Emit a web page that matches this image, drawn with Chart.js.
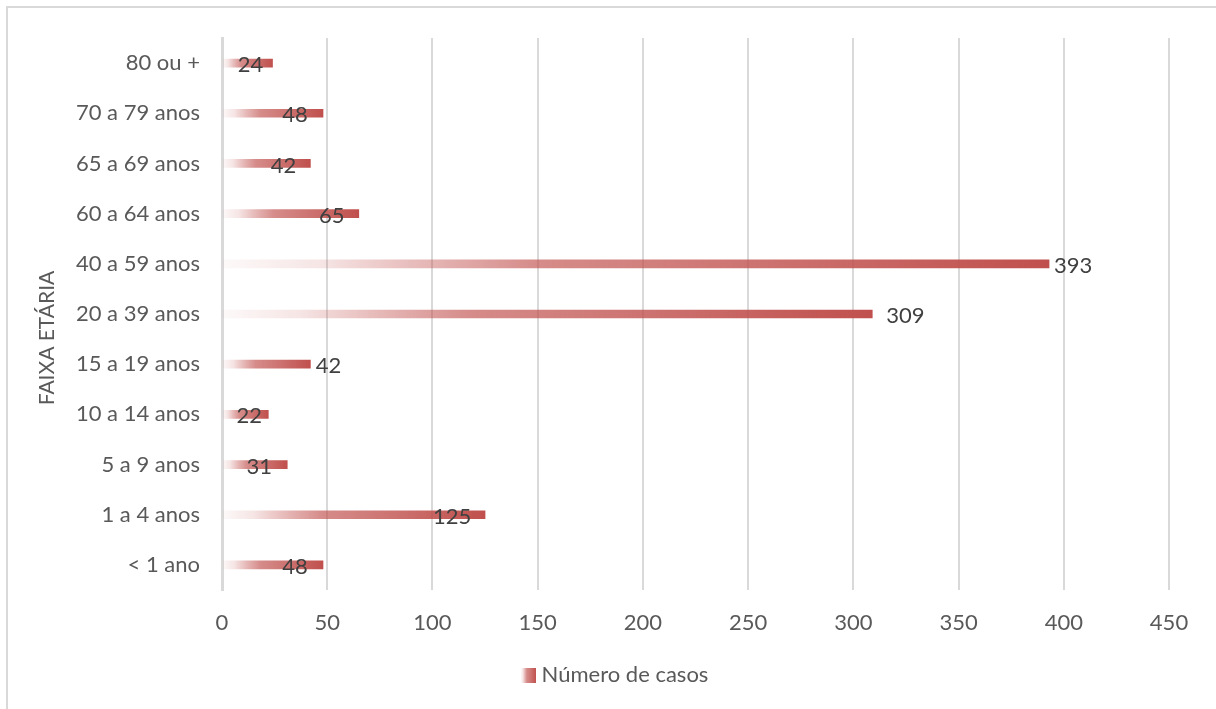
<!DOCTYPE html>
<html>
<head>
<meta charset="utf-8">
<script src="https://cdn.jsdelivr.net/npm/chart.js@4.4.1/dist/chart.umd.min.js"></script>
<style>
    html, body { margin: 0; padding: 0; background: #fff; overflow: hidden; }
    #frame { position: absolute; left: 6px; top: 6px; width: 1216px; height: 709px; border: 2px solid #d9d9d9; box-sizing: border-box; }
    #wrap { position: absolute; left: 0; top: 0; width: 1216px; height: 709px; }
</style>
</head>
<body>
<div id="frame"></div>
<div id="wrap"><canvas id="faixa-chart"></canvas></div>
<script>
// casos por faixa etária
const faixas = ['< 1 ano', '1 a 4 anos', '5 a 9 anos', '10 a 14 anos', '15 a 19 anos', '20 a 39 anos',
    '40 a 59 anos', '60 a 64 anos', '65 a 69 anos', '70 a 79 anos', '80 ou +']
const casos = [48, 125, 31, 22, 42, 309, 393, 65, 42, 48, 24]
const xTicks = [0, 50, 100, 150, 200, 250, 300, 350, 400, 450]

const red = [192, 80, 77]
const fontFamily = 'Lato, "Open Sans", sans-serif'

function fillGradient(ctx, x0, x1) {
    const g = ctx.createLinearGradient(x0, 0, x1, 0)
    g.addColorStop(0, `rgba(${red}, 0.03)`)
    g.addColorStop(0.12, `rgba(${red}, 0.15)`)
    g.addColorStop(0.25, `rgba(${red}, 0.42)`)
    g.addColorStop(0.38, `rgba(${red}, 0.66)`)
    g.addColorStop(0.65, `rgba(${red}, 0.8)`)
    g.addColorStop(1, `rgba(${red}, 1)`)
    return g
}

// little gradient square for the legend
const legendBox = document.createElement('canvas')
legendBox.width = 15
legendBox.height = 15
const lctx = legendBox.getContext('2d')
lctx.fillStyle = fillGradient(lctx, 0, 15)
lctx.fillRect(0, 0, 15, 15)

// value labels, shifted from the bar end (px)
const valueLabels = {
    id: 'valueLabels',
    afterDatasetsDraw(chart, args, opts) {
        const ctx = chart.ctx
        const meta = chart.getDatasetMeta(0)
        ctx.save()
        ctx.font = `22px ${fontFamily}`
        ctx.fillStyle = '#404040'
        ctx.textAlign = 'center'
        ctx.textBaseline = 'middle'
        meta.data.forEach((bar, i) => {
            ctx.fillText(String(casos[i]), bar.x + opts.shift[i], bar.y + 2)
        })
        ctx.restore()
    }
}

// vertical axis title, drawn by hand so it can sit a little lower
const axisTitle = {
    id: 'axisTitle',
    afterDraw(chart, args, opts) {
        const ctx = chart.ctx
        const area = chart.chartArea
        ctx.save()
        ctx.translate(opts.x, (area.top + area.bottom) / 2 + opts.shiftY)
        ctx.rotate(-Math.PI / 2)
        ctx.font = `21px ${fontFamily}`
        ctx.fillStyle = '#595959'
        ctx.textAlign = 'center'
        ctx.textBaseline = 'middle'
        ctx.fillText(opts.text, 0, 0)
        ctx.restore()
    }
}

// nudge the legend to the right
const legendShift = {
    id: 'legendShift',
    afterLayout(chart, args, opts) {
        if (!chart.legend) return
        chart.legend.left += opts.dx
        chart.legend.right += opts.dx
    }
}

const canvas = document.querySelector('#faixa-chart')

new Chart(canvas.getContext('2d'), {
    type: 'bar',
    data: {
        labels: faixas,
        datasets: [{
            label: 'Número de casos',
            data: casos,
            barThickness: 8,
            pointStyle: legendBox,
            backgroundColor: context => {
                const chart = context.chart
                const x = chart.scales.x
                if (!chart.chartArea || !x || context.raw === undefined) return `rgb(${red})`
                const x0 = x.getPixelForValue(0)
                const x1 = x.getPixelForValue(context.raw)
                if (!isFinite(x0) || !isFinite(x1)) return `rgb(${red})`
                return fillGradient(chart.ctx, x0, x1)
            }
        }]
    },
    options: {
        indexAxis: 'y',
        responsive: true,
        maintainAspectRatio: false,
        animation: false,
        layout: { padding: { left: 30, right: 47, top: 38, bottom: 13 } },
        scales: {
            x: {
                min: 0,
                max: 450,
                afterBuildTicks: scale => { scale.ticks = xTicks.map(v => ({ value: v })) },
                afterFit: scale => { scale.height = 64 },
                grid: { color: '#d9d9d9', lineWidth: 2, drawTicks: false },
                border: { display: false },
                ticks: { padding: 20, color: '#595959', font: { family: fontFamily, size: 22 } }
            },
            y: {
                reverse: true,
                afterFit: scale => { scale.width = 192 },
                grid: { display: false, drawTicks: false },
                border: { color: '#d9d9d9', width: 3 },
                ticks: { padding: 22, color: '#595959', font: { family: fontFamily, size: 22 } }
            }
        },
        plugins: {
            legend: {
                position: 'bottom',
                labels: {
                    usePointStyle: true,
                    pointStyleWidth: 4,
                    padding: 10,
                    color: '#595959',
                    font: { family: fontFamily, size: 22 }
                }
            },
            tooltip: { enabled: false },
            valueLabels: { shift: [-28, -33, -28, -19, 18, 33, 24, -27, -27, -28, -22] },
            axisTitle: { text: 'FAIXA ETÁRIA', x: 47, shiftY: 24 },
            legendShift: { dx: 18 }
        }
    },
    plugins: [valueLabels, axisTitle, legendShift]
})
</script>
</body>
</html>
